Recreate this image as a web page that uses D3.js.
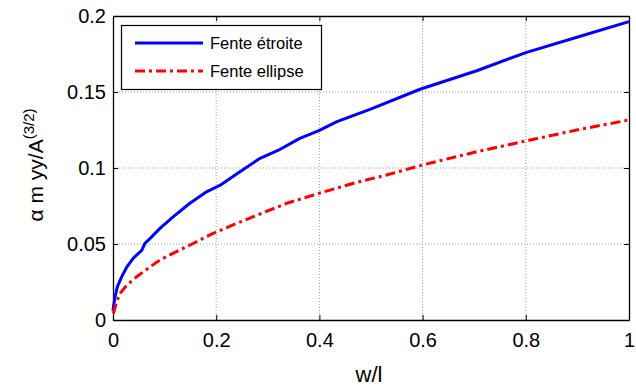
<!DOCTYPE html>
<html><head><meta charset="utf-8">
<script src="https://cdn.jsdelivr.net/npm/d3@7"></script>
<style>
body{margin:0;background:#fff;}
svg{display:block;font-family:"Liberation Sans",Arial,sans-serif;}
</style></head>
<body><svg id="c" width="636" height="386"></svg>
<script>
const xTicks = [0, 0.2, 0.4, 0.6, 0.8, 1];
const xTickLabels = ["0", "0.2", "0.4", "0.6", "0.8", "1"];
const yTicks = [0, 0.05, 0.1, 0.15, 0.2];
const yTickLabels = ["0", "0.05", "0.1", "0.15", "0.2"];
const seriesNames = ["Fente étroite", "Fente ellipse"];
const blueW = [0, 0.001, 0.004, 0.0085, 0.017, 0.027, 0.039, 0.056, 0.062, 0.072, 0.091, 0.117, 0.149, 0.182, 0.207, 0.246, 0.285, 0.324, 0.362, 0.399, 0.434, 0.498, 0.595, 0.705, 0.8, 0.899, 1];
const blueV = [0.006, 0.0088, 0.0153, 0.022, 0.0285, 0.035, 0.0405, 0.046, 0.0505, 0.0537, 0.0603, 0.068, 0.0768, 0.0845, 0.0885, 0.0976, 0.1064, 0.1123, 0.1195, 0.1246, 0.1305, 0.1386, 0.1518, 0.164, 0.1759, 0.186, 0.1963];
const redW = [0.001, 0.007, 0.0136, 0.027, 0.046, 0.072, 0.091, 0.123, 0.156, 0.194, 0.227, 0.272, 0.337, 0.399, 0.466, 0.53, 0.6, 0.705, 0.8, 0.899, 1];
const redV = [0.0044, 0.012, 0.0175, 0.023, 0.0285, 0.035, 0.0395, 0.045, 0.0505, 0.057, 0.0618, 0.068, 0.0768, 0.0833, 0.09, 0.0954, 0.102, 0.1107, 0.1178, 0.125, 0.1316];

const svg = d3.select("#c");
const L = 113, R = 629, T = 16, B = 320;
const x = d3.scaleLinear().domain([0, 1]).range([L, R]);
const y = d3.scaleLinear().domain([0, 0.2]).range([B, T]);

// grid
const g = svg.append("g");
g.selectAll(".gx").data(xTicks.slice(1, -1)).enter().append("line")
  .attr("x1", d => x(d)).attr("x2", d => x(d)).attr("y1", T).attr("y2", B)
  .attr("stroke", "#9a9a9a").attr("stroke-width", 1).attr("stroke-dasharray", "1,2");
g.selectAll(".gy").data(yTicks.slice(1, -1)).enter().append("line")
  .attr("y1", d => y(d)).attr("y2", d => y(d)).attr("x1", L).attr("x2", R)
  .attr("stroke", "#9a9a9a").attr("stroke-width", 1).attr("stroke-dasharray", "1,2");

// axes with inward ticks
const fs = 20;
const ax = svg.append("g").attr("transform", `translate(0,${B})`)
  .call(d3.axisBottom(x).tickValues(xTicks).tickFormat((d, i) => xTickLabels[i]).tickSizeInner(-5).tickSizeOuter(0).tickPadding(13));
const ay = svg.append("g").attr("transform", `translate(${L},0)`)
  .call(d3.axisLeft(y).tickValues(yTicks).tickFormat((d, i) => yTickLabels[i]).tickSizeInner(-5).tickSizeOuter(0).tickPadding(7));
const at = svg.append("g").attr("transform", `translate(0,${T})`)
  .call(d3.axisTop(x).tickValues(xTicks).tickFormat("").tickSizeInner(-5).tickSizeOuter(0));
const ar = svg.append("g").attr("transform", `translate(${R},0)`)
  .call(d3.axisRight(y).tickValues(yTicks).tickFormat("").tickSizeInner(-5).tickSizeOuter(0));
[ax, ay, at, ar].forEach(a => {
  a.selectAll("path").attr("stroke", "#000").attr("stroke-width", 1.3);
  a.selectAll("line").attr("stroke", "#000");
  a.selectAll("text").attr("fill", "#000").style("font-size", fs + "px").style("font-family", '"Liberation Sans",Arial,sans-serif');
});

// lines
const clip = svg.append("clipPath").attr("id", "cp").append("rect")
  .attr("x", L - 2).attr("y", T - 2).attr("width", R - L + 4).attr("height", B - T + 4);
const line = d3.line().x(d => x(d[0])).y(d => y(d[1]));
svg.append("path").datum(blueW.map((w, i) => [w, blueV[i]]))
  .attr("d", line).attr("fill", "none").attr("stroke", "#0000ff").attr("stroke-width", 3)
  .attr("stroke-linejoin", "round").attr("clip-path", "url(#cp)");
svg.append("path").datum(redW.map((w, i) => [w, redV[i]]))
  .attr("d", line).attr("fill", "none").attr("stroke", "#ff0000").attr("stroke-width", 3)
  .attr("stroke-dasharray", "10,4,3,4").attr("clip-path", "url(#cp)");

// legend
const lg = svg.append("g");
lg.append("rect").attr("x", 121.5).attr("y", 25.5).attr("width", 200).attr("height", 64)
  .attr("fill", "#fff").attr("stroke", "#000").attr("stroke-width", 1.2);
const legStyles = [{c: "#0000ff", d: null}, {c: "#ff0000", d: "10,4,3,4"}];
seriesNames.forEach((n, i) => {
  const yy = 43 + i * 28;
  const l = lg.append("line").attr("x1", 135).attr("x2", 203).attr("y1", yy).attr("y2", yy)
    .attr("stroke", legStyles[i].c).attr("stroke-width", 3);
  if (legStyles[i].d) l.attr("stroke-dasharray", legStyles[i].d);
  lg.append("text").attr("x", 210).attr("y", yy + 6).text(n)
    .style("font-size", "16.5px").attr("fill", "#000");
});

// axis labels
svg.append("text").attr("x", 369).attr("y", 382).attr("text-anchor", "middle")
  .style("font-size", "22px").text("w/l");
const yl = svg.append("text").attr("transform", "translate(43,165) rotate(-90)")
  .attr("text-anchor", "middle").style("font-size", "21px");
yl.append("tspan").text("α m yy/A");
yl.append("tspan").attr("dy", -9).style("font-size", "15px").text("(3/2)");
</script></body></html>
